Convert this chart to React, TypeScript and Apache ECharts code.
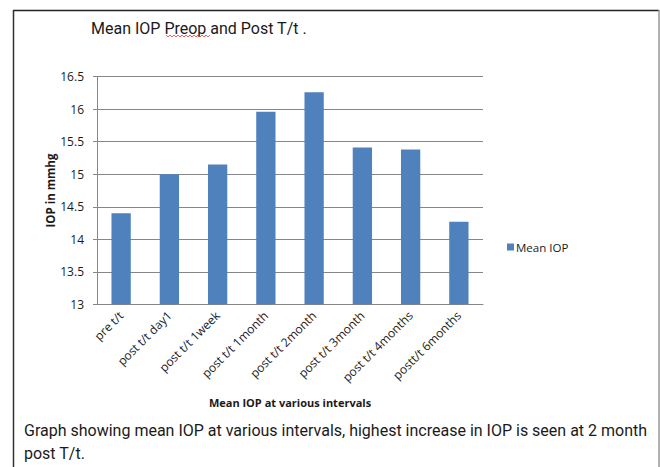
import React, { useEffect, useRef } from "react";
import * as echarts from "echarts";

const categories = [
  "pre t/t",
  "post t/t day1",
  "post t/t 1week",
  "post t/t 1month",
  "post t/t 2month",
  "post t/t 3month",
  "post t/t 4months",
  "postt/t 6months",
];
const meanIOP = [14.4, 15.0, 15.15, 15.96, 16.26, 15.41, 15.38, 14.27];
const yTicks = { min: 13, max: 16.5, interval: 0.5 };

const titleText = "Mean IOP Preop and Post T/t .";
const captionLine1 =
  "Graph showing mean IOP at various intervals, highest increase in IOP is seen at 2 month";
const captionLine2 = "post T/t.";
const seriesName = "Mean IOP";
const yAxisName = "IOP in mmhg";
const xAxisName = "Mean IOP at various intervals";

export default function App() {
  const ref = useRef<HTMLDivElement>(null);
  useEffect(() => {
    if (!ref.current) return;
    const chart = echarts.init(ref.current, undefined, { renderer: "svg" });
    const axisFont = "'Open Sans', sans-serif";
    const grey = "#868686";
    // squiggle points under "Preop"
    const sq: number[][] = [];
    for (let i = 0; i <= 22; i++) {
      sq.push([166 + i * 2, i % 2 === 0 ? 35 : 37]);
    }
    chart.setOption({
      animation: false,
      backgroundColor: "#ffffff",
      grid: { left: 97, right: 177, top: 76.7, bottom: 162.7, containLabel: false },
      legend: {
        show: true,
        left: 502,
        top: 236,
        icon: "rect",
        itemWidth: 7,
        itemHeight: 7,
        itemGap: 4,
        textStyle: { fontFamily: axisFont, fontSize: 11.5, color: "#1a1a1a", padding: [0, 0, 0, -3] },
        data: [seriesName],
      },
      xAxis: {
        type: "category",
        data: categories,
        name: xAxisName,
        nameLocation: "middle",
        nameGap: 93,
        nameMoveOverlap: false,
        nameTextStyle: { fontFamily: axisFont, fontSize: 11, fontWeight: "bold", color: "#1a1a1a" },
        axisLine: { show: true, lineStyle: { color: grey, width: 1 } },
        axisTick: { show: false },
        axisLabel: {
          rotate: 45,
          interval: 0,
          margin: 9,
          fontFamily: axisFont,
          fontSize: 12,
          color: "#1a1a1a",
        },
      },
      yAxis: {
        type: "value",
        min: yTicks.min,
        max: yTicks.max,
        interval: yTicks.interval,
        name: yAxisName,
        nameLocation: "middle",
        nameGap: 41,
        nameMoveOverlap: false,
        nameTextStyle: { fontFamily: axisFont, fontSize: 11.5, fontWeight: "bold", color: "#1a1a1a" },
        axisLine: { show: true, lineStyle: { color: grey, width: 1 } },
        axisTick: { show: true, length: 4, lineStyle: { color: grey } },
        splitLine: { show: true, lineStyle: { color: grey, width: 1 } },
        axisLabel: {
          margin: 13,
          fontFamily: axisFont,
          fontSize: 12,
          color: "#1a1a1a",
        },
      },
      series: [
        {
          name: seriesName,
          type: "bar",
          data: meanIOP,
          barWidth: "40%",
          itemStyle: { color: "#4F81BD" },
        },
      ],
      graphic: [
        { type: "line", shape: { x1: 13, y1: 10.5, x2: 659, y2: 10.5 }, style: { stroke: "#222", lineWidth: 1.5 } },
        { type: "line", shape: { x1: 13.5, y1: 10, x2: 13.5, y2: 467 }, style: { stroke: "#333", lineWidth: 1.5 } },
        { type: "line", shape: { x1: 659, y1: 10, x2: 659, y2: 467 }, style: { stroke: "#999", lineWidth: 1.5 } },
        {
          type: "text",
          left: 91,
          top: 20,
          style: { text: titleText, fontFamily: "Roboto, sans-serif", fontSize: 16, fill: "#1a1a1a" },
        },
        { type: "polyline", shape: { points: sq }, style: { stroke: "#e04040", lineWidth: 0.8, fill: null } },
        {
          type: "text",
          left: 24,
          top: 422,
          style: { text: captionLine1, fontFamily: "Roboto, sans-serif", fontSize: 16, fill: "#1a1a1a" },
        },
        {
          type: "text",
          left: 24,
          top: 445,
          style: { text: captionLine2, fontFamily: "Roboto, sans-serif", fontSize: 16, fill: "#1a1a1a" },
        },
      ],
    });
    return () => chart.dispose();
  }, []);
  return (
    <div
      ref={ref}
      style={{ position: "fixed", left: 0, top: 0, width: 660, height: 467, background: "#fff" }}
    />
  );
}
